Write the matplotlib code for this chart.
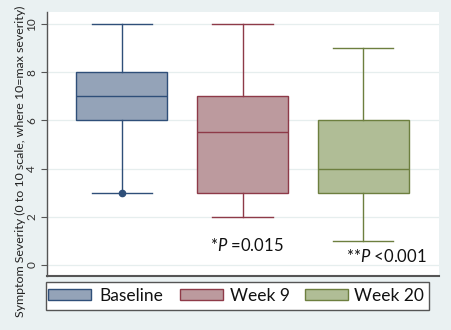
import matplotlib
matplotlib.use("Agg")
import matplotlib.pyplot as plt
from matplotlib.patches import Rectangle

groups = ["Baseline", "Week 9", "Week 20"]
whislo = [3, 2, 1]
q1 = [6, 3, 3]
med = [7, 5.5, 4]
q3 = [8, 7, 6]
whishi = [10, 10, 9]
fliers = [[3], [], []]
yticks = [0, 2, 4, 6, 8, 10]
pvals = ["*$\\it{P}$ =0.015", "**$\\it{P}$ <0.001"]
ylabel = "Symptom Severity (0 to 10 scale, where 10=max severity)"

fills = ["#94a3b8", "#bc9a9e", "#b0bd96"]
edges = ["#2f4f79", "#8e3a48", "#6d7f3f"]
bg = "#eaf1f2"

plt.rcParams['font.family'] = ['Lato', 'DejaVu Sans']
plt.rcParams['mathtext.fontset'] = 'custom'
plt.rcParams['mathtext.it'] = 'Lato:italic'
plt.rcParams['mathtext.rm'] = 'Lato'

W, H = 452, 330
fig = plt.figure(figsize=(W / 100, H / 100), dpi=100, facecolor=bg)
ax = fig.add_axes([47 / W, 1 - 276 / H, (439 - 47) / W, (276 - 12) / H])
ax.set_facecolor("white")

pos = [1, 2, 3]
for i in range(3):
    st = dict(label=groups[i], whislo=whislo[i], q1=q1[i], med=med[i],
              q3=q3[i], whishi=whishi[i], fliers=fliers[i])
    ax.bxp([st], positions=[pos[i]], widths=0.755, patch_artist=True,
           showfliers=True,
           boxprops=dict(facecolor=fills[i], edgecolor=edges[i], linewidth=1.0),
           medianprops=dict(color=edges[i], linewidth=1.0),
           whiskerprops=dict(color=edges[i], linewidth=1.0),
           capprops=dict(color=edges[i], linewidth=1.0),
           capwidths=0.5,
           flierprops=dict(marker='o', markersize=4.5, markerfacecolor=edges[i],
                           markeredgecolor=edges[i]),
           zorder=3)

ax.set_xlim(0.378, 3.63)
ax.set_ylim(-0.46, 10.5)
ax.set_yticks(yticks)
ax.set_yticklabels([str(t) for t in yticks], rotation=90, va='center', fontsize=8.5, color="#333333")
ax.set_xticks([])
ax.grid(axis='y', color="#e6eeee", linewidth=0.9, zorder=0)
ax.set_axisbelow(True)
for s in ["top", "right"]:
    ax.spines[s].set_visible(False)
ax.spines["left"].set_color("#555555")
ax.spines["bottom"].set_color("#555555")
ax.spines["bottom"].set_linewidth(1.5)
ax.spines["left"].set_linewidth(1.0)
ax.tick_params(axis='y', length=4, color="#555555", pad=3)

# y label spanning nearly full height (narrow font to match glyph size)
yl = fig.text(20 / W, 1 - 161 / H, ylabel, rotation=90, ha='center', va='center',
              fontsize=9, color="#222222",
              family=['Liberation Sans Narrow', 'Lato', 'DejaVu Sans'])
fig.canvas.draw()
r = fig.canvas.get_renderer()
h = yl.get_window_extent(r).height
yl.set_fontsize(9 * 314 / h)

ax.text(2.038, 0.8, pvals[0], ha='center', va='center', fontsize=12, color="#111111")
ax.text(3.191, 0.37, pvals[1], ha='center', va='center', fontsize=12, color="#111111")

# legend drawn in figure pixels
def fx(px):
    return px / W

def fy(py):
    return 1 - py / H

fig.add_artist(Rectangle((fx(46), fy(310)), fx(429) - fx(46), fy(282) - fy(310),
                         transform=fig.transFigure, facecolor="white",
                         edgecolor="#555555", linewidth=1.0))
patch_x = [48, 180, 305]
text_x = [99, 230, 354]
for i in range(3):
    fig.add_artist(Rectangle((fx(patch_x[i]), fy(300)), 43 / W, 11 / H,
                             transform=fig.transFigure, facecolor=fills[i],
                             edgecolor=edges[i], linewidth=1.0))
    fig.text(fx(text_x[i]), fy(296), groups[i], ha='left', va='center',
             fontsize=12.5, color="#111111")

fig.savefig("out.png", dpi=100, facecolor=bg)
